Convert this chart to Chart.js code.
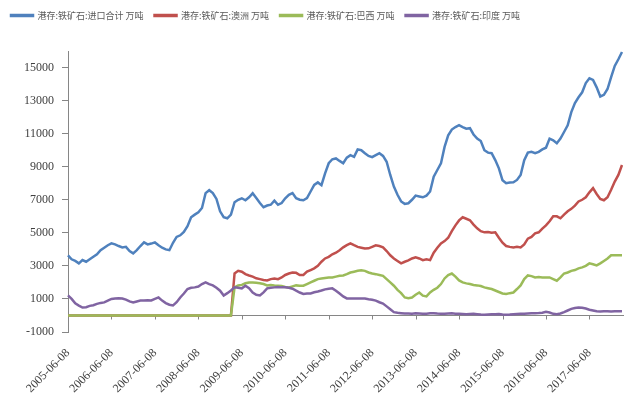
<!DOCTYPE html>
<html>
<head>
<meta charset="utf-8">
<script src="https://cdn.jsdelivr.net/npm/chart.js@4"></script>
<style>
  html, body { margin: 0; padding: 0; background: #ffffff; }
  canvas { display: block; }
</style>
</head>
<body>
<canvas id="c" width="637" height="412"></canvas>
<script>
// Month-end sampling, June 2005 to March 2018
const startYear = 2005, startMonth = 6;
const monthCount = 154;
const categories = [];
for (let i = 0; i < monthCount; i++) {
  const m = startMonth - 1 + i;
  const yr = startYear + Math.floor(m / 12);
  const mo = (m % 12) + 1;
  categories.push(yr + '-' + String(mo).padStart(2, '0') + '-08');
}

const tickLabels = ['2005-06-08','2006-06-08','2007-06-08','2008-06-08','2009-06-08','2010-06-08',
  '2011-06-08','2012-06-08','2013-06-08','2014-06-08','2015-06-08','2016-06-08','2017-06-08'];

const yTicks = [-1000, 1000, 3000, 5000, 7000, 9000, 11000, 13000, 15000];

const seriesNames = ['港存:铁矿石:进口合计 万吨', '港存:铁矿石:澳洲 万吨', '港存:铁矿石:巴西 万吨', '港存:铁矿石:印度 万吨'];

// 进口合计
const totalStock = [
  3640,3400,3300,3150,3350,3250,3400,3550,3700,3950,4100,4250,
  4360,4300,4200,4120,4150,3900,3760,3950,4200,4420,4300,4350,
  4420,4250,4100,4000,3950,4400,4750,4850,5050,5400,5940,6100,
  6240,6500,7400,7580,7400,7050,6300,5950,5880,6100,6850,7000,
  7090,6970,7150,7390,7100,6800,6550,6650,6700,6950,6700,6800,
  7090,7300,7400,7090,7000,6970,7100,7500,7900,8050,7880,8600,
  9210,9450,9500,9350,9210,9550,9700,9600,10050,10000,9820,9650,
  9575,9700,9820,9650,9300,8500,7800,7300,6900,6750,6790,7000,
  7250,7200,7150,7250,7500,8400,8800,9200,10200,10900,11250,11400,
  11515,11400,11300,11330,10950,10700,10550,10000,9850,9820,9400,8900,
  8180,8000,8050,8060,8200,8500,9390,9850,9900,9820,9900,10050,
  10150,10700,10600,10420,10700,11100,11500,12300,12850,13200,13500,14060,
  14350,14250,13800,13250,13350,13700,14420,15100,15500,15940
];

// 澳洲
const australiaStock = [
  0,0,0,0,0,0,0,0,0,0,0,0,
  0,0,0,0,0,0,0,0,0,0,0,0,
  0,0,0,0,0,0,0,0,0,0,0,0,
  0,0,0,0,0,0,0,0,0,0,2540,2700,
  2650,2500,2420,2350,2250,2200,2150,2120,2200,2240,2200,2300,
  2450,2540,2600,2580,2450,2450,2650,2750,2850,3000,3250,3450,
  3550,3700,3800,3950,4120,4250,4360,4250,4150,4100,4050,4060,
  4150,4240,4200,4120,3900,3640,3450,3300,3150,3250,3330,3450,
  3520,3450,3350,3400,3350,3800,4100,4360,4500,4700,5100,5450,
  5750,5940,5850,5760,5500,5270,5100,5030,5050,5000,5030,4700,
  4400,4200,4150,4120,4150,4120,4300,4650,4750,4970,5030,5250,
  5450,5700,6000,6000,5880,6100,6300,6450,6650,6900,7000,7150,
  7450,7700,7350,7050,6970,7150,7600,8100,8500,9100
];

// 巴西
const brazilStock = [
  0,0,0,0,0,0,0,0,0,0,0,0,
  0,0,0,0,0,0,0,0,0,0,0,0,
  0,0,0,0,0,0,0,0,0,0,0,0,
  0,0,0,0,0,0,0,0,0,0,1700,1820,
  1850,1950,2000,2000,1980,1950,1900,1820,1850,1820,1800,1780,
  1720,1700,1760,1820,1800,1800,1900,2000,2100,2200,2240,2270,
  2300,2300,2350,2400,2420,2500,2600,2650,2700,2730,2700,2600,
  2540,2500,2450,2400,2200,2000,1800,1550,1350,1090,1050,1090,
  1250,1390,1200,1150,1390,1550,1680,1900,2240,2450,2540,2350,
  2120,2000,1940,1900,1840,1820,1780,1700,1650,1600,1510,1420,
  1330,1300,1350,1390,1600,1820,2200,2420,2380,2300,2320,2300,
  2300,2300,2200,2100,2300,2540,2600,2700,2750,2850,2910,3000,
  3150,3100,3030,3150,3300,3450,3640,3650,3640,3640
];

// 印度
const indiaStock = [
  1210,1000,730,600,480,500,580,620,700,760,790,900,
  1000,1030,1040,1030,960,850,790,850,900,910,920,910,
  1000,1090,900,750,650,610,800,1090,1330,1600,1680,1700,
  1750,1900,2000,1900,1820,1680,1500,1210,1350,1510,1700,1680,
  1640,1800,1650,1390,1250,1210,1400,1640,1680,1700,1720,1700,
  1700,1680,1620,1500,1390,1300,1330,1330,1400,1450,1510,1580,
  1620,1640,1500,1330,1150,1030,1030,1030,1020,1030,1030,980,
  950,900,800,720,550,380,200,160,140,120,120,110,
  130,120,100,110,130,140,120,110,100,120,130,110,
  100,90,80,90,100,80,60,50,60,70,80,90,
  60,50,60,80,90,100,110,120,130,140,150,170,
  220,180,100,80,120,200,300,400,450,480,470,420,
  350,300,250,240,250,260,240,250,260,250
];

const colors = ['#4F81BD', '#C0504D', '#9BBB59', '#8064A2'];
const seriesData = [totalStock, australiaStock, brazilStock, indiaStock];
const tickIndices = tickLabels.map(l => categories.indexOf(l));

const axisColor = '#868686';
const textColor = '#404040';

// Horizontal axis line at zero with its tick marks
const zeroAxis = {
  id: 'zeroAxis',
  beforeDatasetsDraw(chart) {
    const { ctx, chartArea, scales } = chart;
    const x = scales.x, y = scales.y;
    const y0 = Math.round(y.getPixelForValue(0)) + 0.5;
    ctx.save();
    ctx.strokeStyle = axisColor;
    ctx.lineWidth = 1;
    ctx.beginPath();
    ctx.moveTo(chartArea.left, y0);
    ctx.lineTo(chartArea.right + 2, y0);
    x.ticks.forEach((t, i) => {
      const px = Math.round(x.getPixelForTick(i)) + 0.5;
      ctx.moveTo(px, y0);
      ctx.lineTo(px, y0 + 4);
    });
    ctx.stroke();
    ctx.restore();
  }
};

// Extra space between the legend row and the plot
const legendGap = {
  id: 'legendGap',
  beforeInit(chart) {
    const originalFit = chart.legend.fit;
    chart.legend.fit = function fit() {
      originalFit.bind(chart.legend)();
      this.height += 21;
    };
  }
};

new Chart(document.getElementById('c'), {
  type: 'line',
  data: {
    labels: categories,
    datasets: seriesNames.map((name, k) => ({
      label: name,
      data: seriesData[k],
      borderColor: colors[k],
      backgroundColor: colors[k],
      borderWidth: 2.5,
      pointRadius: 0,
      tension: 0,
      fill: false,
      order: 3 - k
    }))
  },
  options: {
    responsive: false,
    animation: false,
    events: [],
    layout: { padding: { top: 0, right: 15, bottom: 0, left: 0 } },
    plugins: {
      tooltip: { enabled: false },
      legend: {
        position: 'top',
        align: 'start',
        labels: {
          sort: (a, b) => a.datasetIndex - b.datasetIndex,
          boxWidth: 22,
          boxHeight: 1,
          padding: 11,
          color: '#595959',
          font: { family: '"Noto Sans CJK SC", sans-serif', size: 9 }
        }
      }
    },
    scales: {
      x: {
        type: 'category',
        offset: false,
        afterBuildTicks(scale) {
          scale.ticks = tickIndices.map(v => ({ value: v }));
        },
        afterFit(scale) { scale.height = 80; },
        grid: { display: false },
        border: { display: false },
        ticks: {
          autoSkip: false,
          maxRotation: 45,
          minRotation: 45,
          padding: 6,
          color: textColor,
          font: { family: '"Liberation Serif", serif', size: 12 }
        }
      },
      y: {
        min: -1000,
        max: 16000,
        afterBuildTicks(scale) {
          scale.ticks = yTicks.map(v => ({ value: v }));
        },
        afterFit(scale) { scale.width = 68; },
        grid: {
          drawOnChartArea: false,
          drawTicks: true,
          tickLength: 6,
          color: axisColor
        },
        border: { display: true, color: axisColor },
        ticks: {
          padding: 8,
          color: textColor,
          font: { family: '"Liberation Serif", serif', size: 12 },
          callback: (v) => String(v)
        }
      }
    }
  },
  plugins: [zeroAxis, legendGap]
});
</script>
</body>
</html>
